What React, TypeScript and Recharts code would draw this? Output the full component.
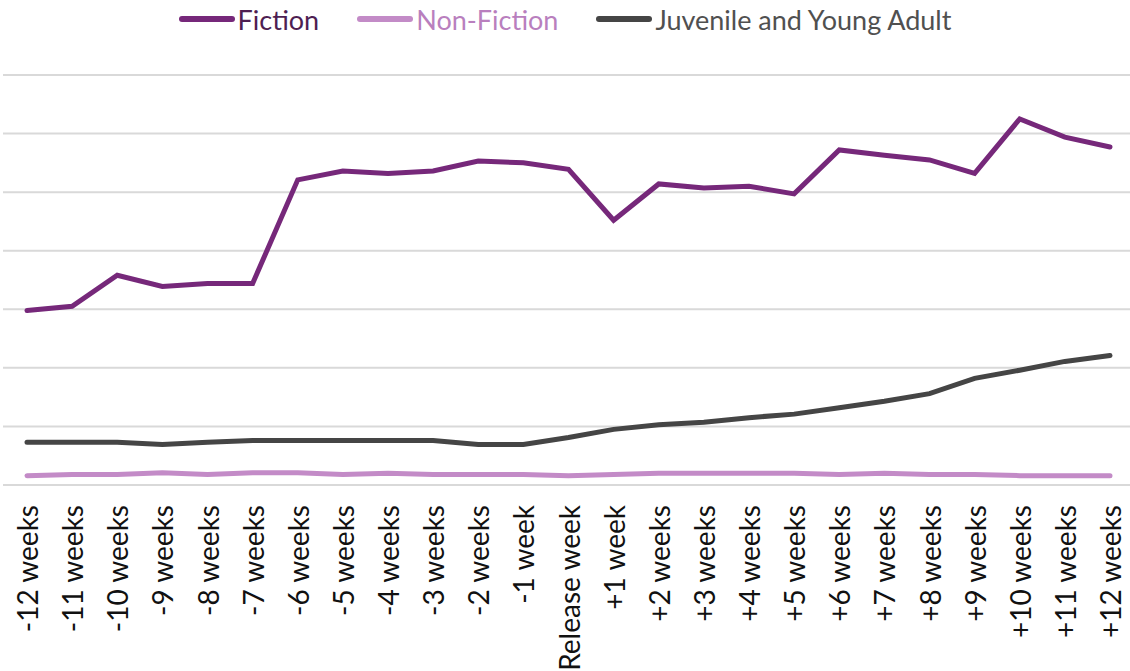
import React from 'react';
import { LineChart, Line, XAxis, YAxis, CartesianGrid, Legend } from 'recharts';

const weeks = [
  '-12 weeks', '-11 weeks', '-10 weeks', '-9 weeks', '-8 weeks', '-7 weeks', '-6 weeks',
  '-5 weeks', '-4 weeks', '-3 weeks', '-2 weeks', '-1 week', 'Release week', '+1 week',
  '+2 weeks', '+3 weeks', '+4 weeks', '+5 weeks', '+6 weeks', '+7 weeks', '+8 weeks',
  '+9 weeks', '+10 weeks', '+11 weeks', '+12 weeks',
];

const fiction = [
  29.8, 30.5, 35.8, 33.9, 34.4, 34.4, 52.1, 53.6, 53.2, 53.6, 55.3, 55.0, 53.9,
  45.2, 51.4, 50.7, 51.0, 49.7, 57.2, 56.3, 55.5, 53.2, 62.5, 59.4, 57.7,
];

const nonFiction = [
  1.6, 1.8, 1.8, 2.1, 1.8, 2.1, 2.1, 1.8, 2.0, 1.8, 1.8, 1.8, 1.6,
  1.8, 2.0, 2.0, 2.0, 2.0, 1.8, 2.0, 1.8, 1.8, 1.6, 1.6, 1.6,
];

const juvenile = [
  7.3, 7.3, 7.3, 6.9, 7.3, 7.6, 7.6, 7.6, 7.6, 7.6, 6.9, 6.9, 8.1,
  9.5, 10.3, 10.7, 11.5, 12.1, 13.2, 14.3, 15.6, 18.2, 19.6, 21.1, 22.1,
];

const yTicks = [0, 10, 20, 30, 40, 50, 60, 70];

const seriesInfo = [
  { key: 'fiction', name: 'Fiction', color: '#76287A', text: '#4E1E52' },
  { key: 'nonFiction', name: 'Non-Fiction', color: '#C38BC7', text: '#B97FBE' },
  { key: 'juvenile', name: 'Juvenile and Young Adult', color: '#454545', text: '#505050' },
];

const data = weeks.map((w, i) => ({
  week: w,
  fiction: fiction[i],
  nonFiction: nonFiction[i],
  juvenile: juvenile[i],
}));

const FONT = 'Lato, "Liberation Sans", sans-serif';

const Tick = (props: any) => {
  const { x, y, payload } = props;
  return (
    <text
      x={x}
      y={y + 12}
      transform={`rotate(-90, ${x}, ${y + 12})`}
      textAnchor="end"
      dominantBaseline="central"
      fontFamily={FONT}
      fontSize={28}
      fill="#111"
    >
      {payload.value}
    </text>
  );
};

const LegendContent = () => (
  <div
    style={{
      height: 38,
      width: 1130,
      display: 'flex',
      justifyContent: 'center',
      alignItems: 'center',
      fontFamily: FONT,
      fontSize: 27,
    }}
  >
    {seriesInfo.map((s, i) => (
      <div key={s.key} style={{ display: 'flex', alignItems: 'center', marginLeft: i === 0 ? 0 : 38 }}>
        <svg width={56} height={10} style={{ marginRight: 3 }}>
          <line x1={3} y1={5} x2={53} y2={5} stroke={s.color} strokeWidth={6} strokeLinecap="round" />
        </svg>
        <span style={{ color: s.text }}>{s.name}</span>
      </div>
    ))}
  </div>
);

export default function App() {
  return (
    <div style={{ position: 'absolute', left: 0, top: 0, width: 1130, height: 671, background: '#fff' }}>
      <LineChart
        width={1130}
        height={671}
        data={data}
        margin={{ top: 37, right: 0, bottom: 0, left: 3 }}
      >
        <CartesianGrid horizontal vertical={false} stroke="#d9d9d9" strokeWidth={2} />
        <XAxis
          dataKey="week"
          interval={0}
          tick={<Tick />}
          tickLine={false}
          axisLine={false}
          height={186}
          padding={{ left: 24, right: 20 }}
        />
        <YAxis hide domain={[0, 70]} ticks={yTicks} />
        <Legend verticalAlign="top" content={<LegendContent />} wrapperStyle={{ top: 0, left: 0, width: 1130 }} />
        {seriesInfo.map((s) => (
          <Line
            key={s.key}
            dataKey={s.key}
            name={s.name}
            stroke={s.color}
            strokeWidth={5}
            dot={false}
            strokeLinecap="round"
            isAnimationActive={false}
          />
        ))}
      </LineChart>
    </div>
  );
}
